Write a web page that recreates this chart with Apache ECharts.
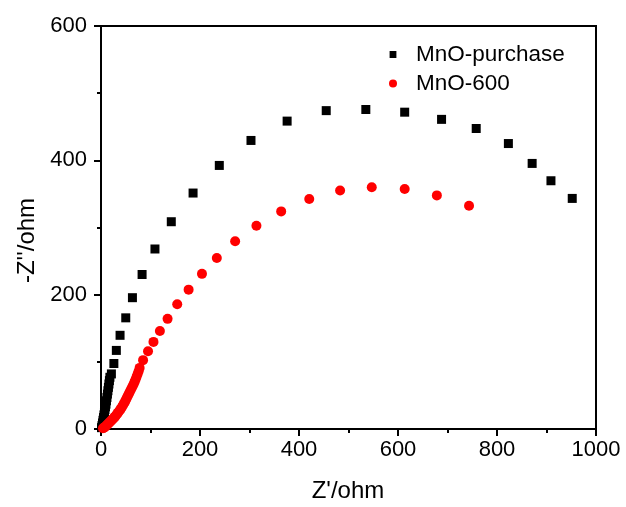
<!DOCTYPE html>
<html>
<head>
<meta charset="utf-8">
<script src="https://cdn.jsdelivr.net/npm/echarts@6/dist/echarts.min.js"></script>
<style>
html,body{margin:0;padding:0;background:#fff;}
#chart{width:626px;height:507px;}
</style>
</head>
<body>
<div id="chart"></div>
<script>
var seriesNames = ['MnO-purchase', 'MnO-600'];
var xTitle = "Z'/ohm";
var yTitle = "-Z''/ohm";

// MnO-purchase: [Z', -Z'']
var purchaseData = [
  [1,2],[2,5],[3,9],[4,13],[5,17],[6,21],[7,25],[8,29],[9,33],[10,37],
  [11,42],[12,47],[13,52],[14,57],[15,62],[16,67],[17,72],[18,77],
  [21,82],[26,97.5],[31,117],[38.5,139.5],[50,165.5],[63.5,195.5],[83,230],
  [109,268],[142,308.6],[186,351.3],[239,392.4],[303,429.6],[376,458.4],
  [455,474],[535,475.7],[613.5,471.7],[688,461],[758,447.4],[823,425],
  [871,395.4],[909,369.6],[952,343.3]
];

// MnO-600: [Z', -Z'']
var mno600Data = [
  [4,1],[6,2],[8,3],[10,4.5],[12,6],[14,7.5],[16,9],[18,10.5],[20,12],
  [22,13.5],[24,15],[26,16.5],[28,18],[30,20],[32,22],[34,24],[36,26],
  [38,28],[40,30],[42,32.5],[44,35],[46,37.5],[48,40],[50,43],[52,46],
  [54,49],[56,52],[58,55],[60,58],[62,61],[64,64],[66,67],[68,70.5],
  [70,74],[72,78],[74,82],[76,86],[78,91],[85,102.5],[95,115.8],
  [106,129.7],[119,146],[134.5,164],[154,185.6],[177,207.5],[204,231],
  [234,254.6],[271,279.4],[314,302.7],[364,324],[420.7,342.3],[483,355],
  [547,360],[613.5,357.2],[678.5,347.8],[743.5,332.4]
];

var xTicks = [0, 200, 400, 600, 800, 1000];
var yTicks = [0, 200, 400, 600];

var FONT = 'Liberation Sans, Arial, sans-serif';
var chart = echarts.init(document.getElementById('chart'), null, {renderer: 'canvas'});

var axisCommon = {
  axisLine: {show: true, lineStyle: {color: '#000', width: 2}},
  axisTick: {show: true, inside: false, length: 7, lineStyle: {color: '#000', width: 2}},
  minorTick: {show: true, splitNumber: 2, length: 4, lineStyle: {color: '#000', width: 2}},
  splitLine: {show: false},
  axisLabel: {color: '#000', fontSize: 22, fontFamily: FONT, formatter: function (v) { return String(v); }}
};

chart.setOption({
  animation: false,
  backgroundColor: '#fff',
  grid: {left: 101, right: 30, top: 26, bottom: 78, show: true, borderColor: '#000', borderWidth: 2, backgroundColor: 'transparent'},
  xAxis: Object.assign({}, axisCommon, {
    type: 'value', min: xTicks[0], max: xTicks[xTicks.length - 1], interval: 200,
    axisLabel: Object.assign({}, axisCommon.axisLabel, {margin: 10})
  }),
  yAxis: Object.assign({}, axisCommon, {
    type: 'value', min: yTicks[0], max: yTicks[yTicks.length - 1], interval: 200,
    axisLabel: Object.assign({}, axisCommon.axisLabel, {margin: 14})
  }),
  legend: {
    orient: 'vertical', left: 384, top: 38, itemWidth: 8, itemHeight: 8, itemGap: 6,
    textStyle: {color: '#000', fontSize: 22.5, fontFamily: FONT, lineHeight: 22, padding: [0, 0, 0, 14]},
    data: [
      {name: seriesNames[0], icon: 'path://M0,0L0.001,0L0.001,0.001Z M0.6,0.6L7.4,0.6L7.4,7.4L0.6,7.4Z M8,8L7.999,8L7.999,7.999Z'},
      {name: seriesNames[1], icon: 'circle'}
    ]
  },
  graphic: [
    {type: 'text', x: 348, y: 491, style: {text: xTitle, fill: '#000', font: '24px ' + FONT, textAlign: 'center', textVerticalAlign: 'middle'}},
    {type: 'text', rotation: Math.PI / 2, x: 27, y: 240.5, style: {text: yTitle, fill: '#000', font: '24px ' + FONT, textAlign: 'center', textVerticalAlign: 'middle'}}
  ],
  series: [
    {name: seriesNames[0], type: 'scatter', symbol: 'rect', symbolSize: 9, itemStyle: {color: '#000', opacity: 1}, data: purchaseData},
    {name: seriesNames[1], type: 'scatter', symbol: 'circle', symbolSize: 10, itemStyle: {color: '#ff0000', opacity: 1}, data: mno600Data}
  ]
});
</script>
</body>
</html>
